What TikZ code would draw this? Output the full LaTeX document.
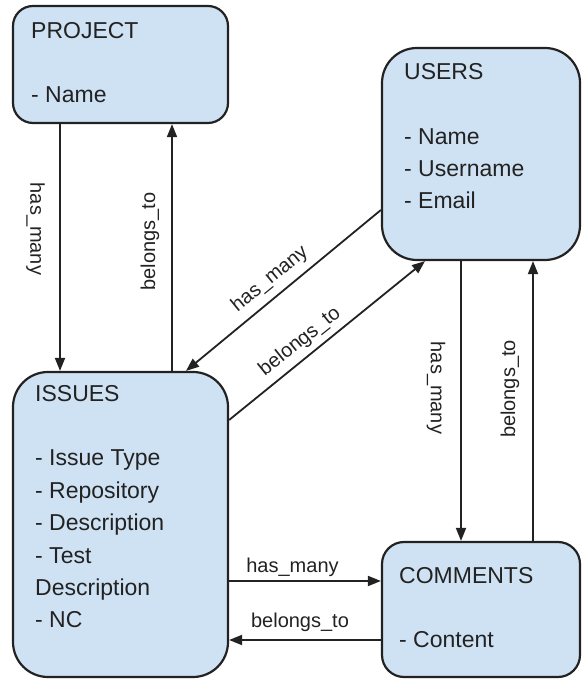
\documentclass[tikz,border=0pt]{standalone}
\usepackage{fontspec}
\setmainfont{Liberation Sans}
\usetikzlibrary{arrows.meta}
\definecolor{boxfill}{HTML}{CFE2F3}
\definecolor{ink}{HTML}{222222}

\begin{document}
\begin{tikzpicture}[x=1pt,y=1pt,
  entity/.style={draw=ink, line width=2.2pt, fill=boxfill, inner sep=0pt},
  % multi-line text: the base anchor sits on the last line
  fields/.style={anchor=base west, align=left, inner sep=0pt, text=ink,
                 font=\fontsize{23}{32.4}\selectfont},
  rel/.style={draw=ink, line width=1.8pt, -{Triangle[length=13pt,width=10pt]}},
  lbl/.style={inner sep=0pt, text=ink, font=\fontsize{20}{24}\selectfont}]

\useasboundingbox (0,0) rectangle (582,679);

% entity boxes
\node[entity, minimum width=215pt, minimum height=117pt, rounded corners=20pt] (project) at (120.5,614.5) {};
\node[entity, minimum width=198pt, minimum height=212pt, rounded corners=35pt] (users) at (481,525) {};
\node[entity, minimum width=215pt, minimum height=305pt, rounded corners=35pt] (issues) at (120.5,154.5) {};
\node[entity, minimum width=198pt, minimum height=135pt, rounded corners=22pt] (comments) at (481,69.5) {};

% entity contents
\node[fields] (projectText) at (31,576) {PROJECT\\[32.4pt]- Name};
\node[fields] (usersText) at (404,470) {USERS\\[32.4pt]- Name\\- Username\\- Email};
\node[fields] (issuesText) at (35,51) {ISSUES\\[32.4pt]- Issue Type\\- Repository\\- Description\\- Test\\Description\\- NC};
\node[fields] (commentsText) at (399,31) {COMMENTS\\[32.4pt]- Content};

% project <-> issues
\draw[rel] ([xshift=-60.5pt]project.south) -- ([xshift=-60.5pt]issues.north);
\node[lbl, rotate=-90] (projHas) at (35.5,450) {has\_many};
\draw[rel] ([xshift=51.5pt]issues.north) -- ([xshift=51.5pt]project.south);
\node[lbl, rotate=90] (issBel) at (150,437.5) {belongs\_to};

% users <-> issues
\draw[rel] ([yshift=-56pt]users.west) -- ([xshift=65.5pt]issues.north);
\node[lbl, rotate=39.4] (usrHas) at (270,400) {has\_many};
\draw[rel] ([yshift=104.5pt]issues.east) -- ([xshift=-56pt]users.south);
\node[lbl, rotate=38.6] (issBelUsr) at (300,337) {belongs\_to};

% users <-> comments
\draw[rel] ([xshift=-20pt]users.south) -- ([xshift=-20pt]comments.north);
\node[lbl, rotate=-90] (usrHasCom) at (436,291) {has\_many};
\draw[rel] ([xshift=52pt]comments.north) -- ([xshift=52pt]users.south);
\node[lbl, rotate=90] (comBelUsr) at (510,290) {belongs\_to};

% issues <-> comments
\draw[rel] ([yshift=-56.5pt]issues.east) -- ([yshift=28.5pt]comments.west);
\node[lbl, anchor=base] (issHasCom) at (292.5,106) {has\_many};
\draw[rel] ([yshift=-30.5pt]comments.west) -- ([yshift=-115.5pt]issues.east);
\node[lbl, anchor=base] (comBelIss) at (300,51) {belongs\_to};
\end{tikzpicture}
\end{document}
